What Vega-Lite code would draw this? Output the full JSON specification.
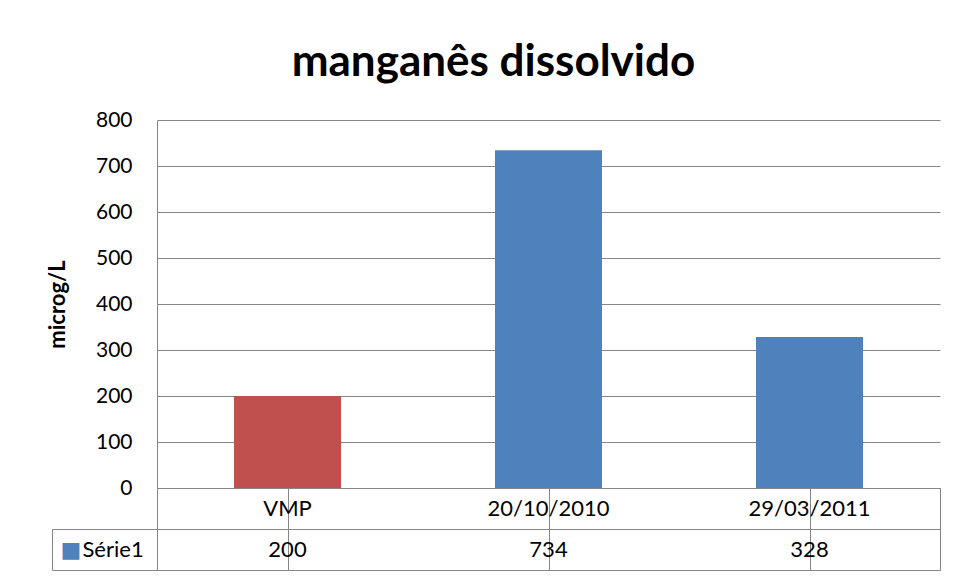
{
  "$schema": "https://vega.github.io/schema/vega-lite/v6.json",
  "padding": {"left": 46, "top": 41, "right": 10, "bottom": 5},
  "background": "white",
  "title": {"text": "manganês dissolvido", "font": "Lato", "fontSize": 44, "fontWeight": "bold", "color": "black", "anchor": "middle", "offset": 24},
  "datasets": {
    "mn": [
      {"cat": "VMP", "value": 200, "kind": "VMP"},
      {"cat": "20/10/2010", "value": 734, "kind": "Série1"},
      {"cat": "29/03/2011", "value": 328, "kind": "Série1"}
    ]
  },
  "spacing": 0,
  "bounds": "flush",
  "vconcat": [
    {
      "width": 783,
      "height": 368,
      "view": {"stroke": null},
      "data": {"name": "mn"},
      "mark": {"type": "bar", "width": {"band": 0.41}},
      "encoding": {
        "x": {"field": "cat", "type": "nominal", "sort": null, "axis": null,
              "scale": {"domain": ["VMP", "20/10/2010", "29/03/2011"], "paddingInner": 0, "paddingOuter": 0}},
        "y": {"field": "value", "type": "quantitative",
              "scale": {"domain": [0, 800], "nice": false},
              "axis": {"title": "microg/L", "titleFont": "Lato", "titleFontSize": 22, "titleFontWeight": "bold", "titleColor": "black", "titlePadding": 26,
                       "values": [0, 100, 200, 300, 400, 500, 600, 700, 800],
                       "labelFont": "Lato", "labelFontSize": 21, "labelColor": "black", "labelPadding": 25,
                       "ticks": false, "domainColor": "#868686", "gridColor": "#868686", "grid": true}},
        "color": {"field": "kind", "type": "nominal", "legend": null,
                  "scale": {"domain": ["VMP", "Série1"], "range": ["#C0504D", "#4F81BD"]}}
      }
    },
    {
      "width": 783,
      "height": 82,
      "view": {"stroke": "#868686"},
      "data": {"name": "mn"},
      "resolve": {"axis": {"y": "independent"}},
      "layer": [
        {
          "mark": {"type": "text", "font": "Lato", "fontSize": 22, "color": "black"},
          "encoding": {
            "x": {"field": "cat", "type": "nominal", "sort": null,
                  "scale": {"domain": ["VMP", "20/10/2010", "29/03/2011"], "paddingInner": 0, "paddingOuter": 0},
                  "axis": {"title": null, "labels": false, "ticks": false, "domain": false, "grid": true, "bandPosition": 0, "gridColor": "#868686"}},
            "y": {"datum": "cat", "type": "nominal",
                  "scale": {"domain": ["cat", "Série1"], "paddingInner": 0, "paddingOuter": 0},
                  "axis": {"orient": "left", "title": null, "tickBand": "extent", "ticks": true, "tickSize": 105,
                           "tickColor": {"condition": {"test": "datum.extra", "value": "transparent"}, "value": "#868686"},
                           "grid": true, "gridColor": "#868686", "domain": false,
                           "labelExpr": "datum.value == 'Série1' ? '■' : ''", "labelColor": "#4F81BD", "labelFont": "DejaVu Sans", "labelFontSize": 22,
                           "labelAlign": "left", "labelPadding": -8}},
            "text": {"field": "cat"}
          }
        },
        {
          "mark": {"type": "text", "font": "Lato", "fontSize": 22, "color": "black"},
          "encoding": {
            "x": {"field": "cat", "type": "nominal", "sort": null},
            "y": {"datum": "Série1", "type": "nominal",
                  "axis": {"orient": "left", "title": null, "offset": 105, "ticks": false, "grid": false,
                           "domain": true, "domainColor": "#868686", "domainDash": [0, 41, 41],
                           "labelExpr": "datum.value == 'Série1' ? 'Série1' : ''", "labelColor": "black", "labelFont": "Lato", "labelFontSize": 22,
                           "labelAlign": "left", "labelPadding": -30}},
            "text": {"field": "value"}
          }
        }
      ]
    }
  ]
}
